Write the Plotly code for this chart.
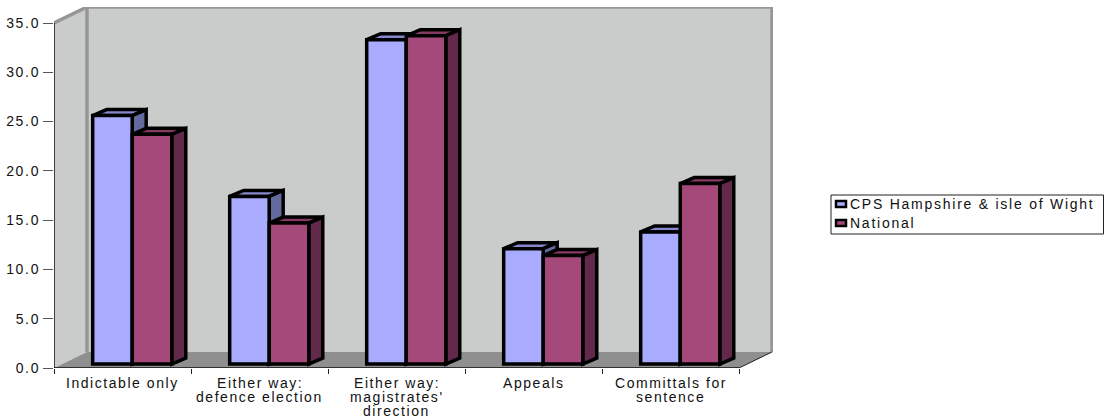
import plotly.graph_objects as go

category_lines = [["Indictable only"], ["Either way:", "defence election"],
                  ["Either way:", "magistrates'", "direction"], ["Appeals"],
                  ["Committals for", "sentence"]]
series_names = ["CPS Hampshire & isle of Wight", "National"]
hampshire = [25.2, 17.0, 32.9, 11.7, 13.4]
national = [23.3, 14.3, 33.3, 11.0, 18.3]
value_ticks = [0, 5, 10, 15, 20, 25, 30, 35]

front_colors = ["#a9abff", "#a5487a"]
top_colors = ["#8688cc", "#843a62"]
side_colors = ["#64699e", "#63294a"]
WALL = "#cacccb"
FLOOR = "#8f8f8f"
RIM = "#969696"
FONT = dict(family="Liberation Sans", size=14, color="#111111")
STROKE = 3.5

# Axis scale: one category = 137 px, one value unit = 9.857 px.
UNIT_X = 137
UNIT_Y = 9.857
W, H = 1104, 420
LEFT, RIGHT, TOP, BOTTOM = 54, 773, 7, 368

# Depth of the chart box and of each column, in axis units.
BOX_DX, BOX_DY = 33 / UNIT_X, 16 / UNIT_Y
BAR_DX, BAR_DY = 14 / UNIT_X, 6 / UNIT_Y
BASE = 4 / UNIT_Y
BAR_W = 39.5 / UNIT_X
OFFSETS = [0.4265, 0.7155]
N = len(category_lines)
YMAX = value_ticks[-1]


def spaced(text, px):
    return f'<span style="letter-spacing:{px}px">{text}</span>'


def poly(xs, ys, fill, line=None, width=0, z=0):
    return go.Scatter(x=xs, y=ys, mode="lines", fill="toself", fillcolor=fill,
                      line=dict(color=line or fill, width=width), hoverinfo="skip",
                      showlegend=False, cliponaxis=False, zorder=z)


def edge(xs, ys, color, width, z=0):
    return go.Scatter(x=xs, y=ys, mode="lines", line=dict(color=color, width=width),
                      hoverinfo="skip", showlegend=False, cliponaxis=False, zorder=z)


fig = go.Figure()

# Chart box: left wall, back wall and floor
fig.add_trace(poly([0, 0, BOX_DX, BOX_DX], [0, YMAX, YMAX + BOX_DY, BOX_DY], WALL))
fig.add_trace(poly([BOX_DX, BOX_DX, N + BOX_DX, N + BOX_DX],
                   [BOX_DY, YMAX + BOX_DY, YMAX + BOX_DY, BOX_DY], WALL))
fig.add_trace(poly([0, N, N + BOX_DX, BOX_DX], [0, 0, BOX_DY, BOX_DY], FLOOR))
fig.add_trace(edge([0, BOX_DX, BOX_DX], [YMAX, YMAX + BOX_DY, BOX_DY], RIM, 3.5))
fig.add_trace(edge([BOX_DX, N + BOX_DX, N + BOX_DX],
                   [YMAX + BOX_DY, YMAX + BOX_DY, BOX_DY], RIM, 3.5))

# Axis lines
fig.add_trace(edge([0, 0], [0, YMAX], "#111111", 1.5))
fig.add_trace(edge([0, N], [0, 0], "#111111", 1.5))
fig.add_trace(edge([N, N + BOX_DX], [0, BOX_DY], "#222222", 1))

# Columns: top and side faces first, then the front, one series over the other
for s, values in enumerate([hampshire, national]):
    z = 1 + 2 * s
    for i, v in enumerate(values):
        x0 = i + OFFSETS[s] - BAR_W / 2
        x1 = x0 + BAR_W
        top = BASE + v
        fig.add_trace(poly([x0, x1, x1 + BAR_DX, x0 + BAR_DX, x0],
                           [top, top, top + BAR_DY, top + BAR_DY, top],
                           top_colors[s], "#000000", STROKE, z))
        fig.add_trace(poly([x1, x1 + BAR_DX, x1 + BAR_DX, x1, x1],
                           [top, top + BAR_DY, BASE + BAR_DY, BASE, top],
                           side_colors[s], "#000000", STROKE, z))
    fig.add_trace(go.Bar(x=[i + OFFSETS[s] for i in range(N)], y=values, base=BASE,
                         width=BAR_W, name=series_names[s], showlegend=False,
                         marker=dict(color=front_colors[s],
                                     line=dict(color="#000000", width=STROKE)),
                         zorder=z + 1))

# Category labels, with a tight line pitch
for i, lines in enumerate(category_lines):
    for k, line in enumerate(lines):
        fig.add_annotation(xref="x", yref="paper", x=i + 0.5, y=1 - (382.5 + 14.3 * k) / H,
                           text=spaced(line, 1.55), showarrow=False, xanchor="center",
                           yanchor="middle", font=FONT, borderpad=0)

# Legend box
fig.add_shape(type="rect", xref="paper", yref="paper", x0=831 / W, x1=1103.5 / W,
              y0=1 - 234 / H, y1=1 - 195 / H, line=dict(color="#222222", width=1),
              fillcolor="white", layer="below")
for s, name in enumerate(series_names):
    cy = 204 + 19 * s
    fig.add_shape(type="rect", xref="paper", yref="paper", x0=836 / W, x1=846 / W,
                  y0=1 - (cy + 3) / H, y1=1 - (cy - 3) / H,
                  line=dict(color="#000000", width=2.5), fillcolor=front_colors[s])
    fig.add_annotation(xref="paper", yref="paper", x=849 / W, y=1 - cy / H,
                       text=spaced(name, 1.75), showarrow=False, xanchor="left",
                       yanchor="middle", font=FONT, borderpad=0)

fig.update_layout(
    width=W, height=H, autosize=False, margin=dict(l=0, r=0, t=0, b=0),
    paper_bgcolor="white", plot_bgcolor="rgba(0,0,0,0)", barmode="overlay",
    showlegend=False, font=FONT,
    xaxis=dict(domain=[LEFT / W, RIGHT / W], range=[0, (RIGHT - LEFT) / UNIT_X],
               automargin=False, showticklabels=False,
               tickmode="array", tickvals=list(range(N + 1)), ticks="outside",
               ticklen=5, tickwidth=1, tickcolor="#222222",
               showgrid=False, zeroline=False, showline=False),
    yaxis=dict(domain=[1 - BOTTOM / H, 1 - TOP / H], range=[0, (BOTTOM - TOP) / UNIT_Y],
               automargin=False, tickmode="array", tickvals=value_ticks,
               ticktext=[spaced(f"{v:.1f}", 1.7) for v in value_ticks],
               ticks="outside", ticklen=10, tickwidth=1, tickcolor="#555555",
               showgrid=False, zeroline=False, showline=False, tickfont=FONT),
)

fig.write_html("out.html")
